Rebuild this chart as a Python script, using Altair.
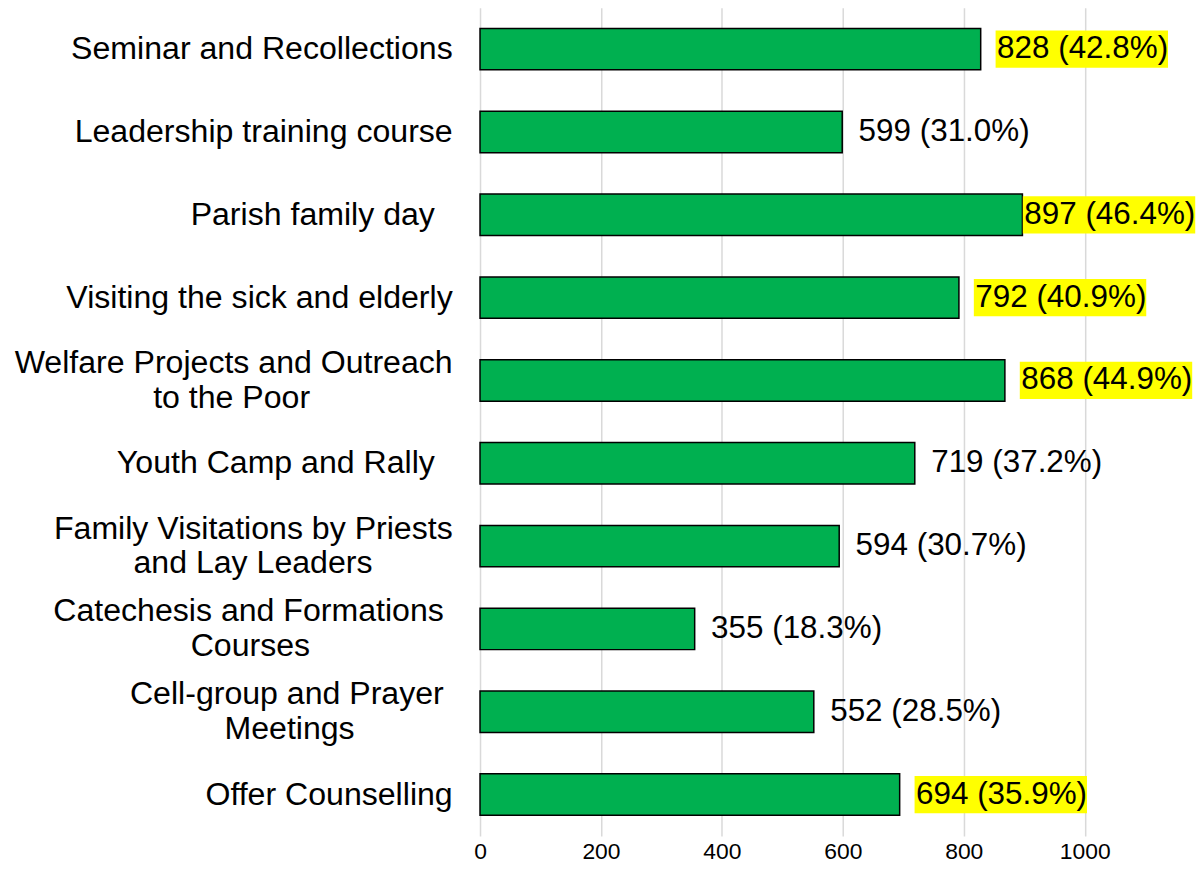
import altair as alt
import pandas as pd

# ---- data -------------------------------------------------------------
categories = [
    "Seminar and Recollections",
    "Leadership training course",
    "Parish family day  ",
    "Visiting the sick and elderly",
    "Welfare Projects and Outreach\nto the Poor",
    "Youth Camp and Rally  ",
    "Family Visitations by Priests\nand Lay Leaders",
    "Catechesis and Formations \nCourses",
    "Cell-group and Prayer \nMeetings",
    "Offer Counselling",
]
counts = [828, 599, 897, 792, 868, 719, 594, 355, 552, 694]
percents = [42.8, 31.0, 46.4, 40.9, 44.9, 37.2, 30.7, 18.3, 28.5, 35.9]
highlighted = [True, False, True, True, True, False, False, False, False, True]
x_ticks = [0, 200, 400, 600, 800, 1000]

# ---- centre the lines of multi-line labels (Arial/Liberation metrics) ----
WIDTHS = {
    " ": 278, "-": 333,
    "A": 667, "B": 667, "C": 722, "D": 722, "E": 667, "F": 611, "G": 778,
    "H": 722, "I": 278, "J": 500, "K": 667, "L": 556, "M": 833, "N": 722,
    "O": 778, "P": 667, "Q": 778, "R": 722, "S": 667, "T": 611, "U": 722,
    "V": 667, "W": 944, "X": 667, "Y": 667, "Z": 611,
    "a": 556, "b": 556, "c": 500, "d": 556, "e": 556, "f": 278, "g": 556,
    "h": 556, "i": 222, "j": 222, "k": 500, "l": 222, "m": 833, "n": 556,
    "o": 556, "p": 556, "q": 556, "r": 333, "s": 500, "t": 278, "u": 556,
    "v": 500, "w": 722, "x": 500, "y": 500, "z": 500,
}
SP = 0.278
NBSP = "\u00a0"
ZWSP = "\u200b"  # keeps the trailing no-break spaces from being trimmed


def text_w(s):
    return sum(WIDTHS.get(c, 556) for c in s) / 1000.0


def centred_key(label):
    info = []
    for ln in label.split("\n"):
        t = ln.rstrip(" ")
        info.append((t, text_w(t), len(ln) - len(t)))
    right = max(w / 2 + s * SP for _, w, s in info)
    out = []
    for t, w, _ in info:
        n = int(round((right - w / 2) / SP))
        out.append(t + (NBSP * n + ZWSP if n else ""))
    return "|".join(out)


keys = [centred_key(c) for c in categories]
texts = [f"{c} ({p:.1f}%)" for c, p in zip(counts, percents)]

df = pd.DataFrame({
    "key": keys,
    "count": counts,
    "pct": percents,
    "hl": highlighted,
    "text": texts,
})

FONT = "Liberation Sans, Arial, sans-serif"
LABEL_LIMIT = 873  # labels are pushed back so they stay inside the chart

y_enc = alt.Y(
    "key:N",
    sort=keys,
    title=None,
    scale=alt.Scale(paddingInner=0.5, paddingOuter=0.25),
    axis=alt.Axis(
        labelExpr="split(datum.label, '|')",
        labelOffset={"condition": {"test": "indexof(datum.value, '|') >= 0",
                                   "value": -17.5},
                     "value": 0},
    ),
)

base = alt.Chart(df)

bars = base.mark_bar(color="#00B050", stroke="black", strokeWidth=1.5).encode(
    y=y_enc,
    x=alt.X(
        "count:Q",
        title=None,
        scale=alt.Scale(domain=[0, 1000], nice=False, zero=True),
        axis=alt.Axis(values=x_ticks, format="d"),
    ),
)

hl = (
    base.transform_filter("datum.hl")
    .transform_calculate(lx=f"min(datum.count, {LABEL_LIMIT})")
    .mark_bar(color="#FFFF00", size=37.5, xOffset=15, x2Offset=188.5)
    .encode(y=y_enc, x=alt.X("lx:Q", title=None), x2="lx:Q")
)

labels = (
    base.transform_calculate(lx=f"min(datum.count, {LABEL_LIMIT})")
    .mark_text(align="left", baseline="middle", dx=16.5, fontSize=31.6,
               font=FONT, color="black")
    .encode(y=y_enc, x=alt.X("lx:Q", title=None), text="text:N")
)

chart = (
    alt.layer(bars, hl, labels)
    .properties(width=608.5, height=833.5,
                padding={"left": 5, "top": -3, "right": 0, "bottom": 0})
    .configure_view(stroke=None)
    .configure_axisX(
        grid=True, gridColor="#d9d9d9", gridWidth=1.5,
        domain=False, ticks=False, tickSize=0,
        labelFont=FONT, labelFontSize=23, labelColor="black",
        labelPadding=5, labelFlush=False,
    )
    .configure_axisY(
        grid=False, domain=False, ticks=False, tickSize=0,
        labelFont=FONT, labelFontSize=32.3, labelColor="black",
        labelPadding=28, labelLimit=1000, labelLineHeight=35,
        labelBaseline="middle",
    )
)

chart.save("out.html", embed_options={"renderer": "svg", "actions": False})
